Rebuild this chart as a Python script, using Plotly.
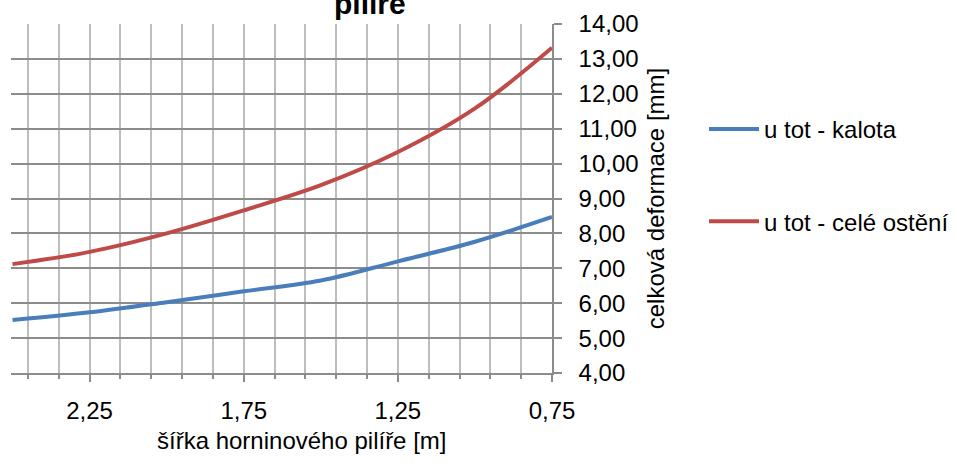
import plotly.graph_objects as go

# pillar width [m] and total deformation [mm]
sirka = [2.50, 2.25, 2.00, 1.75, 1.50, 1.25, 1.00, 0.75]
kalota = [5.52, 5.74, 6.03, 6.34, 6.65, 7.20, 7.76, 8.47]
cele_osteni = [7.12, 7.47, 8.00, 8.66, 9.38, 10.33, 11.58, 13.32]

x_ticks = [2.25, 1.75, 1.25, 0.75]
y_ticks = [4, 5, 6, 7, 8, 9, 10, 11, 12, 13, 14]

FONT = "Liberation Sans, Arial, sans-serif"
FS = 24
BLUE = "#4a7ebb"
RED = "#be4b48"
GRID_H = "#8c8c8c"
GRID_V = "#bdbdbd"

W, H = 957, 468
L, R, T, B = 11, 405, 24, 95
pw, ph = W - L - R, H - T - B


def px_x(p):
    return (p - L) / pw


def px_y(p):
    return 1 - (p - T) / ph


fig = go.Figure()
fig.add_trace(go.Scatter(
    x=sirka, y=kalota, name="u tot - kalota", mode="lines",
    line=dict(color=BLUE, width=4, shape="spline", smoothing=1.0),
    legendgroup="a"))
fig.add_trace(go.Scatter(
    x=sirka, y=cele_osteni, name="u tot - celé ostění", mode="lines",
    line=dict(color=RED, width=4, shape="spline", smoothing=1.0),
    legendgroup="b"))

fig.update_layout(
    width=W, height=H,
    margin=dict(l=L, r=R, t=T, b=B, autoexpand=False),
    paper_bgcolor="white", plot_bgcolor="white",
    separators=", ",
    font=dict(family=FONT, size=FS, color="black"),
    showlegend=True,
    legend=dict(
        x=px_x(704), y=px_y(107), xanchor="left", yanchor="top",
        font=dict(family=FONT, size=FS, color="black"),
        tracegroupgap=58, itemwidth=50, bgcolor="rgba(0,0,0,0)"),
    annotations=[
        dict(text="<b>pilíře</b>", xref="paper", yref="paper",
             x=px_x(370), y=px_y(22), xanchor="center", yanchor="bottom",
             showarrow=False, font=dict(family=FONT, size=30)),
        dict(text="šířka horninového pilíře [m]", xref="paper", yref="paper",
             x=px_x(301), y=px_y(440), xanchor="center", yanchor="middle",
             showarrow=False, font=dict(family=FONT, size=FS)),
    ],
)

fig.update_xaxes(
    range=[2.505, 0.75], automargin=False,
    tickmode="array", tickvals=x_ticks, tickformat=".2f",
    ticks="outside", ticklen=7, tickwidth=1.5, tickcolor=GRID_H,
    ticklabelstandoff=8,
    showgrid=True, gridcolor=GRID_V, gridwidth=1.5,
    minor=dict(tick0=0.75, dtick=0.1, showgrid=True, gridcolor=GRID_V,
               gridwidth=1.5, ticks="outside", ticklen=4, tickcolor=GRID_H),
    showline=True, linecolor=GRID_H, linewidth=1.5,
    zeroline=False, mirror=False,
    tickfont=dict(family=FONT, size=FS),
)

fig.update_yaxes(
    side="right", range=[4, 14], automargin=False,
    tickmode="array", tickvals=y_ticks, tickformat=".2f",
    ticks="outside", ticklen=8, tickwidth=1.5, tickcolor=GRID_H,
    ticklabelstandoff=12,
    showgrid=True, gridcolor=GRID_H, gridwidth=1.5,
    showline=True, linecolor=GRID_H, linewidth=1.5,
    zeroline=False,
    title=dict(text="celková deformace [mm]", standoff=10,
               font=dict(family=FONT, size=FS)),
    tickfont=dict(family=FONT, size=FS),
)

fig.write_html("out.html")
